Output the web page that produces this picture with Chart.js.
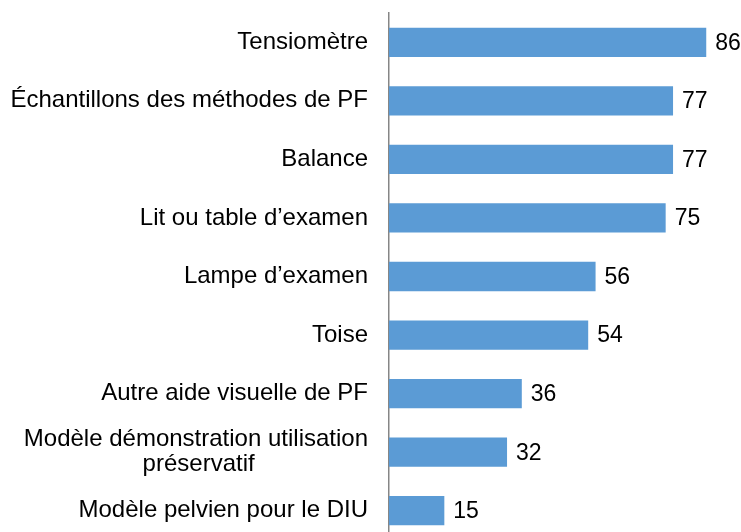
<!DOCTYPE html>
<html>
<head>
<meta charset="utf-8">
<style>
  html, body { margin: 0; padding: 0; background: #ffffff; overflow: hidden; }
  #wrap { width: 741px; height: 532px; overflow: hidden; }
</style>
<script src="https://cdn.jsdelivr.net/npm/chart.js@4/dist/chart.umd.min.js"></script>
</head>
<body>
<div id="wrap"><canvas id="c" width="741" height="546"></canvas></div>
<script>
// Equipment available (%)
const categories = [
  ["Tensiomètre"],
  ["Échantillons des méthodes de PF"],
  ["Balance"],
  ["Lit ou table d\u2019examen"],
  ["Lampe d\u2019examen"],
  ["Toise"],
  ["Autre aide visuelle de PF"],
  ["Modèle démonstration utilisation", "préservatif"],
  ["Modèle pelvien pour le DIU"]
];
const values = [86, 77, 77, 75, 56, 54, 36, 32, 15];

const FONT_FAMILY = "'Liberation Sans', Arial, sans-serif";
const LABEL_SIZE = 24;
const VALUE_SIZE = 23;

// Centre the lines of a multi-line label within its widest line (right-aligned ticks)
const measureCtx = document.createElement('canvas').getContext('2d');
measureCtx.font = LABEL_SIZE + 'px ' + FONT_FAMILY;
function centredLines(lines) {
  if (lines.length < 2) return lines[0];
  const widths = lines.map(l => measureCtx.measureText(l).width);
  const maxW = Math.max(...widths);
  const spaceW = measureCtx.measureText(' ').width;
  return lines.map((l, i) => l + ' '.repeat(Math.round((maxW - widths[i]) / 2 / spaceW)));
}

const valueLabels = {
  id: 'valueLabels',
  afterDatasetsDraw(chart) {
    const ctx = chart.ctx;
    const meta = chart.getDatasetMeta(0);
    ctx.save();
    ctx.font = VALUE_SIZE + 'px ' + FONT_FAMILY;
    ctx.fillStyle = '#000000';
    ctx.textAlign = 'left';
    ctx.textBaseline = 'middle';
    meta.data.forEach((bar, i) => {
      ctx.fillText(String(values[i]), bar.x + 9, bar.y + 1);
    });
    ctx.restore();
  }
};

new Chart(document.getElementById('c'), {
  type: 'bar',
  data: {
    labels: categories.map(centredLines),
    datasets: [{
      data: values,
      backgroundColor: '#5B9BD5',
      borderWidth: 0,
      categoryPercentage: 1,
      barPercentage: 0.5
    }]
  },
  options: {
    indexAxis: 'y',
    responsive: false,
    animation: false,
    layout: { padding: { top: 13, right: 20, bottom: 6, left: 0 } },
    plugins: { legend: { display: false }, tooltip: { enabled: false } },
    scales: {
      x: { display: false, min: 0, max: 90 },
      y: {
        afterFit(axis) {
          axis.width = 389;
          axis.paddingTop = 0;
          axis.paddingBottom = 0;
        },
        grid: { display: false, drawTicks: false },
        border: { display: true, color: '#868686', width: 1.5 },
        ticks: {
          padding: 21,
          color: '#000000',
          font: { family: FONT_FAMILY, size: LABEL_SIZE, lineHeight: 1.05 }
        }
      }
    }
  },
  plugins: [valueLabels]
});
</script>
</body>
</html>
